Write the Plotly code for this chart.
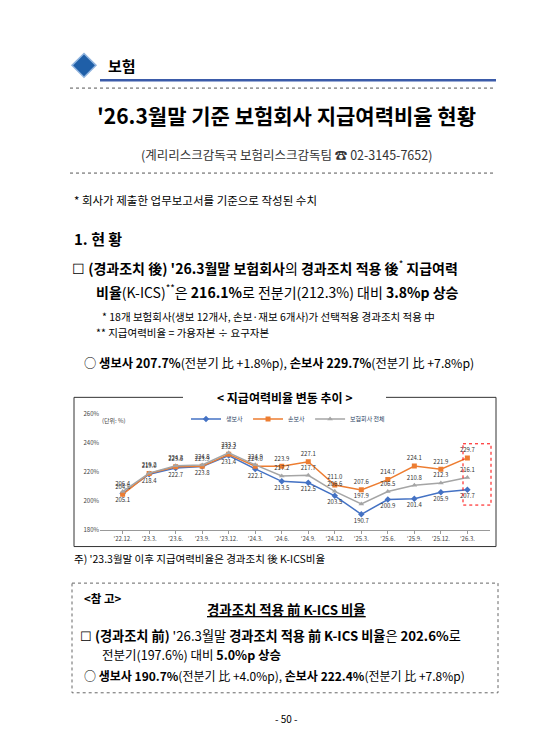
import plotly.graph_objects as go

W, H = 556, 754
FONT = "Noto Sans CJK KR"

quarters = ["'22.12.", "'23.3.", "'23.6.", "'23.9.", "'23.12.", "'24.3.", "'24.6.",
            "'24.9.", "'24.12.", "'25.3.", "'25.6.", "'25.9.", "'25.12.", "'26.3."]
life = [205.1, 218.4, 222.7, 223.8, 231.4, 222.1, 213.5, 212.5, 203.5, 190.7, 200.9, 201.4, 205.9, 207.7]
nonlife = [204.5, 219.0, 223.6, 223.9, 232.2, 224.0, 223.9, 227.1, 211.0, 207.6, 214.7, 224.1, 221.9, 229.7]
total = [206.4, 219.2, 224.3, 224.8, 233.3, 224.9, 217.2, 217.7, 206.6, 197.9, 206.5, 210.8, 212.3, 216.1]
series_names = ["생보사", "손보사", "보험회사 전체"]
y_ticks = [180, 200, 220, 240, 260]


def px(x):
    return x / W


def py(y):
    return 1 - y / H


fig = go.Figure()
colors = ["#4472C4", "#ED7D31", "#A5A5A5"]
symbols = ["diamond", "square", "triangle-up"]
positions = ["bottom center", "top center", "top center"]
for name, vals, c, s, p in zip(series_names, [life, nonlife, total], colors, symbols, positions):
    fig.add_trace(go.Scatter(
        x=quarters, y=vals, name=name, mode="lines+markers+text",
        line=dict(color=c, width=1.5), marker=dict(symbol=s, size=5, color=c),
        text=[f"{v:.1f}" for v in vals], textposition=p,
        textfont=dict(size=6, color="#333333", family=FONT)))

fig.update_xaxes(domain=[px(92), px(482)], showgrid=False, showline=True,
                 linecolor="#999", ticks="outside", ticklen=3, tickcolor="#999",
                 tickfont=dict(size=6, color="#444"))
fig.update_yaxes(domain=[py(523), py(406)], range=[180, 260], tickvals=y_ticks,
                 ticktext=[f"{t}%" for t in y_ticks], showgrid=False,
                 showline=False, tickfont=dict(size=6, color="#444"))

shapes = []
ann = []


def text(x, y, s, size=11, anchor="left", bold=False, color="black"):
    if bold:
        s = "<b>" + s + "</b>"
    ann.append(dict(x=px(x), y=py(y), xref="paper", yref="paper", text=s, showarrow=False,
                    xanchor=anchor, yanchor="middle", font=dict(size=size, color=color, family=FONT)))


def line(x0, y0, x1, y1, color="black", width=1, dash="solid"):
    shapes.append(dict(type="line", xref="paper", yref="paper", x0=px(x0), y0=py(y0),
                       x1=px(x1), y1=py(y1), line=dict(color=color, width=width, dash=dash)))


def rect(x0, y0, x1, y1, color="black", width=1, dash="solid", fill="rgba(0,0,0,0)"):
    shapes.append(dict(type="rect", xref="paper", yref="paper", x0=px(x0), y0=py(y0),
                       x1=px(x1), y1=py(y1), fillcolor=fill,
                       line=dict(color=color, width=width, dash=dash)))


# header
shapes.append(dict(type="path", xref="paper", yref="paper",
                   path=f"M {px(64)},{py(53)} L {px(76)},{py(41)} L {px(88)},{py(53)} L {px(76)},{py(65)} Z",
                   fillcolor="#1F5FA8", line=dict(color="#8FB3DE", width=1.5)))
text(98, 53, "보험", 15, bold=True)
line(92, 68, 488, 68, "#3B5BA9", 2.5)
line(62, 76, 488, 76, "#555", 1, "dot")
text(278, 103, "'26.3월말 기준 보험회사 지급여력비율 현황", 21, "center", True)
text(278, 143, "(계리리스크감독국 보험리스크감독팀 ☎ 02-3145-7652)", 12.5, "center", color="#333")
line(62, 162, 488, 162, "#555", 1, "dot")
text(64, 189, "* 회사가 제출한 업무보고서를 기준으로 작성된 수치", 11.5)
text(64, 228, "1. 현 황", 15, bold=True)
text(62, 258, "☐ <b>(경과조치 後) '26.3월말 보험회사</b>의 <b>경과조치 적용 後</b><sup>*</sup> <b>지급여력</b>", 14)
text(86, 282, "<b>비율</b>(K-ICS)<sup>**</sup>은 <b>216.1%</b>로 전분기(212.3%) 대비 <b>3.8%p 상승</b>", 14)
text(92, 307, "* 18개 보험회사(생보 12개사, 손보·재보 6개사)가 선택적용 경과조치 적용 中", 10.5)
text(86, 323, "** 지급여력비율 = 가용자본 ÷ 요구자본", 10.5)
text(74, 354, "○ <b>생보사 207.7%</b>(전분기 比 +1.8%p), <b>손보사 229.7%</b>(전분기 比 +7.8%p)", 12.3)

# chart box
rect(66, 389, 488, 540, "#333", 1)
rect(175, 381, 378, 397, "white", 0, fill="white")
text(276, 389, "< 지급여력비율 변동 추이 >", 12, "center", True)
text(92, 412, "(단위: %)", 6, color="#444")
rect(455, 436, 483, 498, "red", 1, "dot")
text(64, 552, "주) '23.3월말 이후 지급여력비율은 경과조치 後 K-ICS비율", 10.5)

# reference box
rect(64, 577, 490, 688, "#666", 1, "dot")
text(74, 592, "<b><참 고></b>", 11.5)
text(278, 603, "<b><u>경과조치 적용 前 K-ICS 비율</u></b>", 13.4, "center")
text(70, 630, "☐ <b>(경과조치 前)</b> '26.3월말 <b>경과조치 적용 前 K-ICS 비율</b>은 <b>202.6%</b>로", 13.2)
text(92, 649, "전분기(197.6%) 대비 <b>5.0%p 상승</b>", 12.5)
text(74, 671, "○ <b>생보사 190.7%</b>(전분기 比 +4.0%p), <b>손보사 222.4%</b>(전분기 比 +7.8%p)", 12)
text(278, 714, "- 50 -", 10, "center")

fig.update_layout(
    width=W, height=H, margin=dict(l=0, r=0, t=0, b=0),
    paper_bgcolor="white", plot_bgcolor="white",
    font=dict(family=FONT),
    shapes=shapes, annotations=ann,
    legend=dict(orientation="h", x=px(280), xanchor="center", y=py(411), yanchor="middle",
                font=dict(size=6, family=FONT), bgcolor="rgba(0,0,0,0)"),
)

fig.write_html("out.html")
